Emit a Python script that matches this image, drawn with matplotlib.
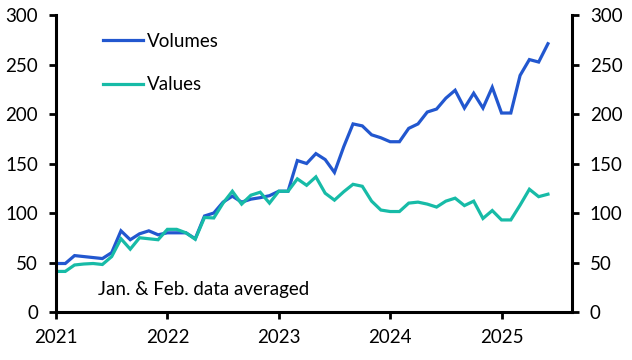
import matplotlib
matplotlib.use("Agg")
import matplotlib.pyplot as plt
import numpy as np

plt.rcParams['font.family'] = ['Lato', 'DejaVu Sans']

# Monthly data, Jan 2021 - Jun 2025 (Jan & Feb averaged)
start_year = 2021
volumes = [49, 49, 57, 56, 55, 54, 60, 82, 73, 79, 82, 78,
           80, 80, 80, 74, 97, 100, 111, 117, 111, 114, 115.5, 117.5,
           122, 122, 153, 150, 160, 154, 141, 167, 190, 188, 179, 176,
           172, 172, 185.5, 190, 202, 205, 216, 224, 206, 221, 206, 227,
           201, 201, 239, 255, 252.5, 271]
values = [41, 41, 47.5, 48.5, 49, 48, 56, 74, 63.5, 75, 74, 73,
          83.5, 83.5, 80, 73.5, 95.5, 95, 110, 122, 109, 118, 121, 110,
          122, 122, 134.5, 128, 136.5, 120, 113, 121.5, 129, 127, 112, 103,
          101.5, 101.5, 110, 111, 109, 106, 112, 115, 107.5, 112, 94.5, 102.5,
          93, 93, 108, 124, 116.5, 119]
series_labels = ["Volumes", "Values"]
year_ticks = [2021, 2022, 2023, 2024, 2025]
y_ticks = [0, 50, 100, 150, 200, 250, 300]
note = "Jan. & Feb. data averaged"

x = start_year + np.arange(len(volumes)) / 12.0

FS = 13.5

fig = plt.figure(figsize=(6.32, 3.60), dpi=100)
ax = fig.add_axes([0.0886, 0.1333, 0.8160, 0.8250])

ax.plot(x, volumes, color='#2257cf', lw=2.3, label=series_labels[0], solid_joinstyle='miter')
ax.plot(x, values, color='#17bba7', lw=2.3, label=series_labels[1], solid_joinstyle='miter')

ax.set_xlim(2021, 2025.63)
ax.set_ylim(0, 300)
ax.set_yticks(y_ticks)
ax.set_xticks(year_ticks)
ax.set_xticklabels([str(y) for y in year_ticks])

for s in ['left', 'right', 'bottom']:
    ax.spines[s].set_linewidth(2.2)
    ax.spines[s].set_color('black')
ax.spines['top'].set_visible(False)

ax.tick_params(axis='both', direction='out', length=5, width=2, labelsize=FS,
               colors='black')
ax.tick_params(axis='x', pad=7)
ax.tick_params(axis='y', which='both', left=True, right=True, labelleft=True,
               labelright=True, pad=8)

leg = ax.legend(loc='upper left', frameon=False, fontsize=FS, handlelength=2.13,
                handletextpad=0.2, labelspacing=1.40, bbox_to_anchor=(0.091, 0.940),
                borderaxespad=0, borderpad=0)

ax.text(2021.373, 23, note, fontsize=FS, va='center', ha='left')

fig.savefig("out.png", dpi=100)
